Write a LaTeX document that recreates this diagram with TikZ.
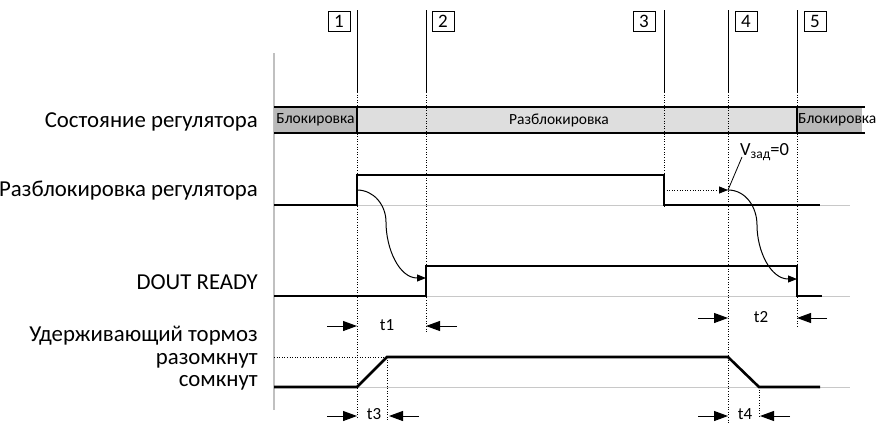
\documentclass[tikz,border=0pt]{standalone}
\usepackage{fontspec}
\setmainfont{Carlito}
\usetikzlibrary{arrows.meta}
\definecolor{darkbar}{HTML}{B9B9B9}
\definecolor{lightbar}{HTML}{DEDEDE}
\definecolor{baseg}{HTML}{C8C8C8}
\definecolor{axisg}{HTML}{C0C0C0}
\begin{document}
\begin{tikzpicture}[x=1pt,y=-1pt,
  sig/.style={line width=2.6pt, line join=miter},
  baseline/.style={line width=1pt, draw=baseg},
  evline/.style={line width=0.8pt},
  dots/.style={line width=0.8pt, dash pattern=on 1pt off 1.6pt},
  lbl/.style={font=\fontsize{22.8}{25}\selectfont, anchor=base east, inner sep=0pt},
  num/.style={draw, line width=0.8pt, minimum width=22pt, minimum height=20pt, inner sep=0pt, font=\fontsize{19}{20}\selectfont},
  bigtip/.style={-{Triangle[length=14pt,width=10pt]}, line width=1pt},
  ctip/.style={-{Triangle[length=9pt,width=7pt]}, line width=1pt},
  tl/.style={font=\fontsize{17}{18}\selectfont, inner sep=0pt},
  bartext/.style={font=\fontsize{15.5}{17}\selectfont, inner sep=0pt}
]
\path[use as bounding box] (0,0) rectangle (877,424);

% axis
\draw[line width=2pt, draw=axisg] (274,53) -- (274,410);

% gray baselines
\draw[baseline] (274,205) -- (850,205);
\draw[baseline] (274,296) -- (850,296);
\draw[baseline] (274,387) -- (850,387);

% left labels
\node[lbl] (lstate) at (258,127.5) {Состояние регулятора};
\node[lbl] (lenable) at (258,196.5) {Разблокировка регулятора};
\node[lbl] (ldout) at (258,289) {DOUT READY};
\node[lbl] (lbrake) at (258,341) {Удерживающий тормоз};
\node[lbl] (lopen) at (258,364) {разомкнут};
\node[lbl] (lclosed) at (258,386) {сомкнут};

% state bar
\fill[darkbar] (274,107) rectangle (357,133);
\fill[lightbar] (357,107) rectangle (797,133);
\fill[darkbar] (797,107) rectangle (862,133);
\draw[sig] (274,107) -- (865,107);
\draw[sig] (274,133) -- (865,133);
\draw[sig] (357,107) -- (357,133);
\draw[sig] (797,107) -- (797,133);
\node[bartext] (b1) at (315.5,120) {Блокировка};
\node[bartext] (b2) at (559,120) {Разблокировка};
\node[bartext, anchor=west] (b3) at (798,120) {Блокировка};

% event lines
\foreach \x/\e in {357/418, 426/333, 664/207, 728/423, 797/327}{
  \draw[evline] (\x,10) -- (\x,92);
  \draw[dots] (\x,92) -- (\x,\e);
}
\draw[dots] (387,357) -- (387,420);
\draw[dots] (759,387) -- (759,416);
\draw[dots] (274,357) -- (387,357);

% numbers
\node[num] (n1) at (339,21) {1};
\node[num] (n2) at (443,21) {2};
\node[num] (n3) at (644,21) {3};
\node[num] (n4) at (746,21) {4};
\node[num] (n5) at (815,21) {5};

% signals
\draw[sig] (274,205) -- (357,205) -- (357,175) -- (664,175) -- (664,205) -- (820,205);
\draw[sig] (274,296) -- (426,296) -- (426,266) -- (797,266) -- (797,296) -- (822,296);
\draw[sig] (274,387) -- (357,387) -- (387,357) -- (728,357) -- (759,387) -- (820,387);

% causal curves
\coordinate (c1s) at (357,190);
\coordinate (c1e) at (426,278);
\draw[ctip] (c1s) to[out=0,in=90] (386,222) to[out=-90,in=180] (c1e);
\coordinate (c2a) at (664,190);
\coordinate (c2s) at (728,190);
\coordinate (c2e) at (797,279);
\draw[ctip, dots] (c2a) -- (c2s);
\draw[ctip] (c2s) to[out=0,in=90] (757,225) to[out=-90,in=180] (c2e);

% Vset label
\node[font=\fontsize{18.5}{20}\selectfont, inner sep=0pt, anchor=base west] (vset) at (740,155) {V\raisebox{-3pt}{\fontsize{13.5}{14}\selectfont зад}=0};
\draw[line width=0.8pt] (742,157) -- (c2s);

% time arrows
\foreach \a/\b/\y in {327/357/326, 457/426/326, 698/728/318, 827/797/318, 327/357/416, 419/389/416, 698/728/416, 790/760/416}{
  \draw[bigtip] (\a,\y) -- (\b,\y);
}
\node[tl] (t1) at (387,325) {t1};
\node[tl] (t2) at (761,317) {t2};
\node[tl] (t3) at (374,414.5) {t3};
\node[tl] (t4) at (745,414.5) {t4};
\end{tikzpicture}
\end{document}
